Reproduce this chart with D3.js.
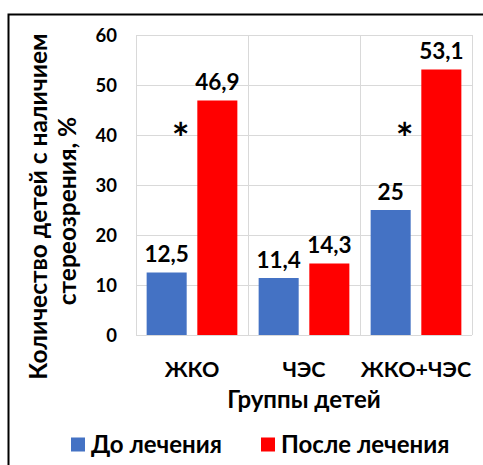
<!DOCTYPE html>
<html><head><meta charset="utf-8">
<script src="https://cdn.jsdelivr.net/npm/d3@7/dist/d3.min.js"></script>
<style>
html,body{margin:0;padding:0;background:#fff;}
svg{display:block;}
text{font-family:Lato,"Open Sans",sans-serif;font-weight:bold;fill:#000;}
</style></head>
<body>
<script>
const categories = ["ЖКО", "ЧЭС", "ЖКО+ЧЭС"];
const seriesNames = ["До лечения", "После лечения"];
const beforeValues = [12.5, 11.4, 25];
const afterValues = [46.9, 14.3, 53.1];
const valueLabels = [["12,5", "46,9"], ["11,4", "14,3"], ["25", "53,1"]];
const yTicks = [0, 10, 20, 30, 40, 50, 60];
const significant = ["ЖКО", "ЖКО+ЧЭС"];
const colors = ["#4472C4", "#FF0000"];
const yTitleLines = ["Количество детей с наличием", "стереозрения, %"];
const xTitle = "Группы детей";

const W = 483, H = 465;
const svg = d3.select("body").append("svg").attr("width", W).attr("height", H);

// outer frame (top and left edges visible)
svg.append("path").attr("d", `M8.5,${H} V14.5 H${W}`)
  .attr("fill", "none").attr("stroke", "#000").attr("stroke-width", 2);

const plot = {left: 136, right: 472, top: 35, bottom: 335};
const y = d3.scaleLinear().domain([0, 60]).range([plot.bottom, plot.top]);
const x0 = d3.scaleBand().domain(categories).range([plot.left, plot.right]).padding(0);
const x1 = d3.scaleBand().domain(seriesNames).range([0, x0.bandwidth()]).paddingInner(0.21).paddingOuter(0.21);

const grid = svg.append("g").attr("stroke", "#d9d9d9").attr("stroke-width", 1);
yTicks.forEach(t => {
  grid.append("line").attr("x1", plot.left).attr("x2", plot.right)
    .attr("y1", Math.round(y(t)) + 0.5).attr("y2", Math.round(y(t)) + 0.5);
});
const bounds = categories.map(c => x0(c)).concat([plot.right]);
bounds.forEach(b => {
  grid.append("line").attr("x1", Math.round(b) + 0.5).attr("x2", Math.round(b) + 0.5)
    .attr("y1", plot.top).attr("y2", plot.bottom);
});

// y tick labels via axis
const yAxis = d3.axisLeft(y).tickValues(yTicks).tickSize(0).tickPadding(0);
const ya = svg.append("g").attr("transform", `translate(117,0)`).call(yAxis);
ya.select(".domain").remove();
ya.selectAll("text").style("font-family", "Lato").style("font-weight", "bold")
  .style("font-size", "18.5px").attr("fill", "#000").attr("dy", "0.36em");

const data = categories.map((c, i) => ({cat: c, vals: [beforeValues[i], afterValues[i]], labels: valueLabels[i]}));

const groups = svg.selectAll("g.grp").data(data).join("g").attr("class", "grp")
  .attr("transform", d => `translate(${x0(d.cat)},0)`);

groups.selectAll("rect").data(d => d.vals.map((v, j) => ({v, j, s: seriesNames[j]})))
  .join("rect")
  .attr("x", d => x1(d.s)).attr("width", x1.bandwidth())
  .attr("y", d => y(d.v)).attr("height", d => y(0) - y(d.v))
  .attr("fill", d => colors[d.j]);

groups.selectAll("text.val").data(d => d.vals.map((v, j) => ({v, j, s: seriesNames[j], l: d.labels[j]})))
  .join("text").attr("class", "val")
  .attr("x", d => x1(d.s) + x1.bandwidth() / 2).attr("y", d => y(d.v) - 10.5)
  .attr("text-anchor", "middle").style("font-size", "22.5px").text(d => d.l);

// significance asterisks
svg.selectAll("text.star").data(significant).join("text").attr("class", "star")
  .attr("x", d => x0(d) + x1(seriesNames[0]) + x1.bandwidth() / 2 + 14)
  .attr("y", y(41) + 24)
  .attr("text-anchor", "middle").style("font-size", "42px").text("*");

// category labels
svg.selectAll("text.cat").data(categories).join("text").attr("class", "cat")
  .attr("x", d => x0(d) + x0.bandwidth() / 2).attr("y", 377)
  .attr("text-anchor", "middle").style("font-size", "21.5px").text(d => d);

// x title
svg.append("text").attr("x", (plot.left + plot.right) / 2).attr("y", 407.5)
  .attr("text-anchor", "middle").style("font-size", "24px").text(xTitle);

// y title
const yCenters = [206.5, 211];
const yBase = [47, 76];
yTitleLines.forEach((t, i) => {
  svg.append("text").attr("transform", `translate(${yBase[i]},${yCenters[i]}) rotate(-90)`)
    .attr("text-anchor", "middle").style("font-size", "24.5px").text(t);
});

// legend
const legend = svg.append("g");
const legX = [71, 261];
seriesNames.forEach((s, i) => {
  legend.append("rect").attr("x", legX[i]).attr("y", 437.5).attr("width", 14).attr("height", 14).attr("fill", colors[i]);
  legend.append("text").attr("x", legX[i] + 20).attr("y", 452.5).style("font-size", "24px").text(s);
});
</script>
</body></html>
